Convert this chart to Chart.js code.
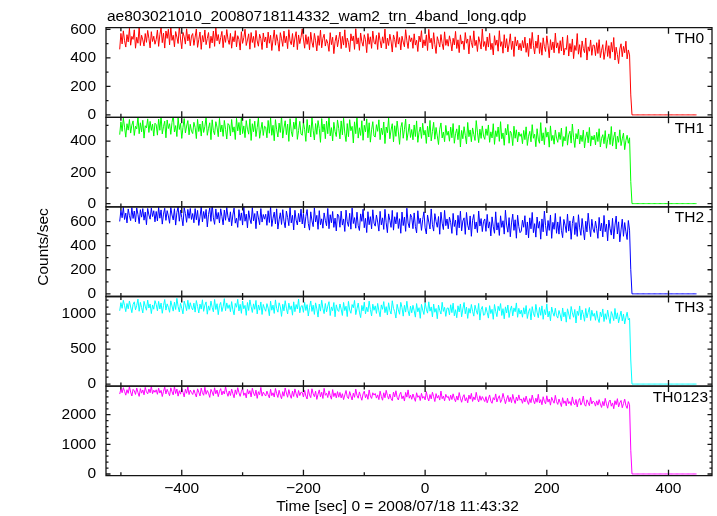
<!DOCTYPE html>
<html><head><meta charset="utf-8">
<script src="https://cdn.jsdelivr.net/npm/chart.js@4.4.1/dist/chart.umd.min.js"></script>
<style>html,body{margin:0;padding:0;background:#fff;overflow:hidden}</style>
</head><body><canvas id="c" width="717" height="516"></canvas>
<script>
// ---- data ----
const binStart = -502;   // time of first bin [sec]
const binSize = 2;       // bin width [sec]
const th0 = [
460,572,498,590,521,476,563,512,608,489,551,530,597,468,545,503,618,487,559,526,483,571,509,593,537,470,584,515,552,496,
528,596,481,563,612,507,574,469,589,537,601,492,618,523,559,478,585,546,501,622,533,464,579,548,497,604,519,566,485,553,
571,488,546,603,474,529,582,460,557,511,596,493,537,578,468,552,505,589,481,611,520,564,497,543,586,472,558,509,599,530,
495,572,468,549,513,591,477,556,530,455,584,502,542,601,487,526,569,461,578,508,551,473,593,519,482,566,535,459,575,512,
547,470,581,503,559,452,528,596,489,563,515,447,577,534,481,588,506,552,465,598,519,493,571,476,540,584,458,561,500,545,
604,532,468,563,495,549,457,580,511,474,572,520,449,556,488,595,471,538,566,483,529,502,446,577,493,545,430,514,559,478,
531,582,465,551,490,597,472,539,508,444,569,519,554,460,605,497,541,453,575,513,482,563,527,437,571,496,548,467,588,510,
496,558,459,577,522,470,548,503,602,463,539,487,566,518,441,561,529,474,585,497,543,456,552,511,478,598,520,466,557,514,
541,467,569,490,524,445,553,512,591,471,527,485,562,452,600,506,538,463,577,494,431,549,515,476,564,501,458,583,488,530,
482,555,513,449,538,491,586,466,527,437,562,497,519,458,578,503,533,428,556,509,472,590,486,524,445,549,511,462,603,480,
515,451,547,476,572,458,503,421,556,489,526,447,591,481,514,433,563,470,535,442,497,569,459,518,410,548,483,524,456,502,
450,522,471,546,439,503,410,537,464,579,486,428,518,468,561,431,507,419,541,479,445,555,489,401,528,457,512,436,574,470,
506,432,521,449,547,420,468,459,558,413,501,441,533,395,487,452,571,426,493,404,519,466,437,540,385,478,447,526,418,490,
489,416,507,431,528,402,454,493,389,447,521,410,486,397,509,441,543,385,475,424,360,462,499,408,481,436,517,393,456,421,
140,
0,0,0,0,0,0,0,0,0,0,0,0,0,0,0,0,0,0,0,0,0,0,0,0,0,0,0,0,0,0,0,0,0,0,0,0,0,0,0,0,0,0,0,0,0,0,0,0,0,0,0,0,0,0];
const th1 = [
441,523,462,547,489,425,511,470,538,451,502,529,436,495,478,556,447,517,459,533,419,498,484,542,455,526,468,509,432,514,
505,438,541,469,562,446,492,527,421,535,480,511,443,519,566,458,499,429,548,474,513,417,487,544,452,496,531,440,507,463,
448,520,487,416,539,461,509,432,528,455,494,551,437,482,517,409,536,466,441,524,489,428,545,458,503,430,532,475,413,512,
502,433,538,457,491,410,546,465,519,439,555,448,497,422,531,476,444,542,404,511,460,527,429,486,549,418,473,520,436,495,
489,421,532,450,548,437,501,402,537,472,426,515,455,560,419,484,530,441,509,398,543,463,428,521,476,551,411,467,526,445,
437,519,474,398,538,452,503,426,553,469,407,512,443,531,480,392,544,458,509,415,527,447,558,433,486,401,520,461,429,535,
481,414,529,440,546,451,397,512,428,537,466,494,388,523,447,555,419,485,436,530,405,501,459,542,421,517,393,472,524,432,
426,505,462,536,409,483,441,522,384,490,453,547,415,471,511,395,498,430,528,458,379,486,519,418,475,541,404,452,509,423,
474,408,503,429,529,392,456,490,417,514,438,469,385,495,426,532,401,461,520,412,487,433,378,476,516,420,458,396,500,437,
463,399,489,421,512,386,447,478,409,501,362,468,415,492,437,381,519,428,471,396,484,442,404,531,457,390,476,417,497,432,
411,478,436,503,392,459,420,511,379,466,428,490,398,524,415,452,373,481,439,507,386,463,449,371,495,418,472,394,458,430,
447,383,468,409,491,372,431,462,395,505,418,444,364,479,412,386,518,401,453,377,486,425,458,361,497,403,437,380,471,419,
392,456,410,483,366,429,401,492,374,441,463,387,509,421,359,448,413,476,381,438,397,470,356,425,459,389,487,368,433,407,
438,375,456,397,479,362,418,441,383,467,354,409,446,378,493,368,425,458,349,431,392,472,371,414,451,345,404,437,386,421,
141,
0,0,0,0,0,0,0,0,0,0,0,0,0,0,0,0,0,0,0,0,0,0,0,0,0,0,0,0,0,0,0,0,0,0,0,0,0,0,0,0,0,0,0,0,0,0,0,0,0,0,0,0,0,0];
const th2 = [
601,694,632,718,617,671,589,705,649,608,716,626,688,597,714,660,583,699,637,708,612,679,574,709,655,620,712,642,690,598,
684,605,719,628,697,579,662,711,610,691,647,586,717,655,614,707,571,676,722,603,696,633,565,715,668,594,701,627,709,618,
667,590,708,615,693,568,639,722,597,684,625,701,556,660,713,602,745,631,577,705,620,676,588,706,643,573,696,611,718,636,
598,681,565,655,712,587,628,552,699,609,672,571,726,603,662,548,690,621,583,716,606,667,541,687,630,574,708,596,659,620,
661,569,690,592,724,560,628,679,581,706,538,615,673,576,699,603,549,687,634,566,718,589,652,531,694,612,572,668,597,703,
580,668,547,643,700,583,529,681,606,558,714,597,652,536,691,574,623,545,672,611,565,709,541,657,590,684,552,629,522,663,
648,553,687,571,622,518,695,598,560,669,537,712,584,633,545,678,566,526,664,602,703,549,627,509,682,574,641,540,698,587,
562,655,596,521,685,573,631,535,702,590,508,664,611,552,693,529,640,581,676,543,624,503,679,567,637,519,711,588,549,661,
634,541,672,560,506,690,583,628,527,617,681,548,497,655,596,539,705,574,521,666,601,553,642,495,678,587,534,693,566,622,
540,637,591,502,668,559,613,487,652,548,686,523,605,631,494,676,570,531,647,478,611,659,538,597,509,688,563,625,517,601,
622,519,660,546,598,481,639,557,503,681,530,591,485,648,552,607,496,694,571,512,633,474,589,662,527,615,462,653,558,508,
521,612,553,649,489,597,465,631,540,676,508,583,471,638,545,601,454,622,515,687,566,482,609,527,655,461,594,536,668,503,
597,496,641,528,467,618,571,509,663,521,606,453,585,645,492,592,477,657,548,486,626,532,448,603,514,670,563,475,619,538,
509,604,543,461,635,522,587,473,651,516,579,440,613,540,488,627,457,571,646,497,598,432,531,620,478,592,515,451,609,529,
200,
0,0,0,0,0,0,0,0,0,0,0,0,0,0,0,0,0,0,0,0,0,0,0,0,0,0,0,0,0,0,0,0,0,0,0,0,0,0,0,0,0,0,0,0,0,0,0,0,0,0,0,0,0,0];
const th3 = [
1048,1164,1083,1197,1121,1035,1152,1076,1188,1102,1021,1139,1176,1062,1125,1214,1041,1168,1094,1017,1183,1113,1056,1201,1087,1145,1008,1131,1070,1193,
1139,1047,1182,1073,1158,1012,1121,1209,1058,1147,1098,1026,1190,1117,1043,1171,1066,1226,1109,1031,1154,1084,1004,1186,1128,1050,1199,1069,1163,1092,
1061,1157,1029,1194,1110,1016,1143,1072,1205,1040,1128,1175,999,1118,1055,1186,1097,1033,1210,1066,1149,992,1123,1168,1037,1105,1221,1049,1160,1081,
1134,1035,1179,1064,990,1153,1098,1212,1045,1140,1011,1188,1076,1125,983,1166,1052,1203,1109,1024,1147,1069,1196,1003,1131,1057,1174,995,1138,1082,
1041,1150,1087,977,1185,1056,1129,1010,1203,1079,1028,1162,1104,968,1141,1047,1192,1085,1002,1157,1066,1118,985,1176,1035,1137,1073,1215,1019,1112,
1121,1026,1169,1052,1136,973,1095,1188,1039,1128,996,1161,1074,958,1144,1043,1199,1080,1007,1152,1031,1115,1178,980,1103,1049,1166,962,1133,1060,
1038,1145,1071,981,1167,1050,1113,965,1182,1059,1012,1137,1091,1196,993,1076,1158,1028,950,1124,1046,1171,1003,1099,1034,1186,1067,974,1142,1055,
1118,1010,1153,1046,963,1132,1069,1179,1021,1107,987,1162,1052,1001,1191,1083,1035,944,1140,1061,998,1168,1094,971,1126,1029,1184,1048,976,1115,
1019,1126,1048,957,1151,1033,1092,940,1139,1058,995,1163,1071,1014,1176,1042,1103,961,1144,1027,1081,934,1130,1052,1001,1169,1039,1097,968,1085,
1088,990,1134,1021,1157,976,1063,948,1119,1031,1145,962,1074,1166,1005,1101,939,1082,1013,1138,1040,971,1127,1054,998,1153,915,1067,1110,984,
993,1097,1026,943,1121,1008,1069,926,1138,1040,964,1112,1049,1151,981,1078,933,1104,1016,1130,952,1059,1117,975,1089,1034,1160,955,1083,1001,
1058,956,1091,1000,1123,938,1034,1079,917,1107,1012,963,1139,1028,949,1095,983,1118,926,1064,992,1146,959,1041,905,1101,1021,970,1085,979,
943,1052,990,901,1088,962,1031,885,1076,1003,927,1109,1018,955,1067,873,1042,981,1117,918,1060,996,898,1081,947,1025,1096,909,1055,969,
1011,912,1047,938,880,1029,963,1074,894,1006,925,1058,951,866,1036,985,907,1081,930,1019,876,968,1043,903,1000,859,955,1027,918,940,
344,
0,0,0,0,0,0,0,0,0,0,0,0,0,0,0,0,0,0,0,0,0,0,0,0,0,0,0,0,0,0,0,0,0,0,0,0,0,0,0,0,0,0,0,0,0,0,0,0,0,0,0,0,0,0];
const th0123 = [
2698,2871,2742,2913,2789,2660,2844,2721,2948,2765,2632,2857,2806,2685,2902,2753,2619,2881,2728,2836,2671,2924,2774,2703,2866,2740,2960,2712,2828,2757,
2842,2689,2896,2731,2823,2614,2787,2933,2702,2858,2750,2640,2907,2776,2668,2952,2715,2869,2627,2812,2694,2888,2759,2601,2861,2724,2940,2680,2831,2749,
2683,2839,2712,2598,2874,2761,2634,2901,2740,2656,2927,2690,2818,2727,2585,2856,2764,2643,2910,2706,2833,2610,2789,2881,2667,2797,2698,2945,2751,2621,
2802,2648,2866,2710,2573,2839,2685,2913,2744,2619,2791,2884,2652,2736,2568,2857,2697,2812,2601,2895,2729,2640,2830,2552,2778,2676,2921,2627,2763,2690,
2631,2796,2672,2568,2859,2643,2741,2597,2887,2712,2584,2825,2659,2540,2780,2625,2903,2734,2589,2846,2667,2554,2799,2616,2872,2702,2575,2818,2646,2760,
2749,2597,2823,2630,2530,2855,2668,2577,2876,2707,2609,2794,2518,2691,2838,2602,2760,2549,2891,2655,2727,2580,2806,2643,2525,2849,2612,2736,2569,2781,
2592,2753,2567,2710,2509,2668,2817,2604,2542,2781,2635,2497,2729,2586,2862,2651,2556,2769,2615,2488,2700,2794,2573,2687,2521,2836,2629,2549,2741,2662,
2717,2561,2670,2510,2794,2618,2489,2741,2573,2823,2652,2527,2698,2545,2474,2765,2601,2809,2582,2498,2677,2758,2539,2636,2462,2752,2594,2838,2557,2660,
2521,2698,2566,2452,2741,2587,2643,2478,2722,2555,2616,2501,2780,2574,2466,2681,2533,2759,2608,2445,2712,2560,2649,2494,2797,2541,2627,2469,2688,2582,
2620,2477,2659,2512,2705,2541,2438,2633,2493,2748,2556,2420,2597,2677,2468,2575,2402,2661,2527,2719,2449,2601,2505,2756,2544,2431,2640,2486,2612,2522,
2444,2609,2401,2533,2667,2459,2386,2578,2495,2702,2431,2561,2642,2413,2514,2720,2548,2372,2526,2651,2437,2587,2409,2685,2506,2380,2597,2468,2669,2490,
2533,2386,2572,2430,2628,2461,2349,2545,2407,2663,2488,2371,2559,2420,2690,2396,2510,2337,2607,2452,2368,2640,2426,2531,2323,2586,2474,2389,2655,2441,
2348,2529,2402,2276,2574,2383,2467,2298,2558,2371,2446,2313,2601,2395,2332,2515,2262,2478,2547,2324,2420,2632,2341,2287,2503,2411,2305,2586,2364,2459,
2421,2290,2467,2324,2509,2357,2245,2448,2301,2553,2366,2219,2431,2497,2287,2398,2203,2474,2339,2542,2262,2405,2481,2236,2376,2526,2310,2214,2444,2337,
800,
0,0,0,0,0,0,0,0,0,0,0,0,0,0,0,0,0,0,0,0,0,0,0,0,0,0,0,0,0,0,0,0,0,0,0,0,0,0,0,0,0,0,0,0,0,0,0,0,0,0,0,0,0,0];

const panelNames = ['TH0', 'TH1', 'TH2', 'TH3', 'TH0123'];
const xMajorTicks = [-400, -200, 0, 200, 400];
const xMinorTicks = [-500, -300, -100, 100, 300];
const yMajorTicks = [
  [0, 200, 400, 600],
  [0, 200, 400],
  [0, 200, 400, 600],
  [0, 500, 1000],
  [0, 1000, 2000]
];
const yMinorTicks = [
  [100, 300, 500],
  [100, 300, 500],
  [100, 300, 500, 700],
  [100, 200, 300, 400, 600, 700, 800, 900, 1100, 1200],
  [200, 400, 600, 800, 1200, 1400, 1600, 1800, 2200, 2400, 2600, 2800]
];
const titleText = 'ae803021010_20080718114332_wam2_trn_4band_long.qdp';
const xTitle = 'Time [sec] 0 = 2008/07/18 11:43:32';
const yTitle = 'Counts/sec';

// ---- chart ----
const series = [th0, th1, th2, th3, th0123];
const colors = ['#ff0000', '#00ff00', '#0000ff', '#00ffff', '#ff00ff'];
const yLimits = [[-17, 612], [-21, 552], [-22, 722], [-29, 1252], [-58, 2966]];
const FONT = {family: '"Liberation Sans", Arial, Helvetica, sans-serif', size: 15.5};
const yIds = ['y0', 'y1', 'y2', 'y3', 'y4'];

const datasets = series.map((arr, i) => ({
  label: panelNames[i],
  data: arr.map((v, k) => ({x: binStart + k * binSize, y: v})),
  yAxisID: yIds[i],
  borderColor: colors[i],
  borderWidth: 1,
  pointRadius: 0,
  tension: 0,
  fill: false
}));

const scales = {
  x: {
    type: 'linear', position: 'bottom', min: -524.5, max: 471.5,
    grid: {display: false, drawTicks: false}, border: {display: false},
    afterBuildTicks: s => { s.ticks = xMajorTicks.map(v => ({value: v})); },
    afterFit: s => { s.height = 40.3; },
    ticks: {font: FONT, color: '#000', padding: 4, maxRotation: 0, autoSkip: false,
      callback: v => (v < 0 ? '\u2212' + Math.abs(v) : String(v))}
  }
};
yIds.forEach((id, i) => {
  scales[id] = {
    type: 'linear', position: 'left', stack: 'panels', stackWeight: 1, weight: 5 - i,
    min: yLimits[i][0], max: yLimits[i][1],
    grid: {display: false, drawTicks: false}, border: {display: false},
    afterBuildTicks: s => { s.ticks = yMajorTicks[i].map(v => ({value: v})); },
    afterFit: s => { s.width = 106; },
    ticks: {font: FONT, color: '#000', padding: 10, autoSkip: false, callback: v => String(v)}
  };
});

const framePlugin = {
  id: 'frame',
  afterDatasetsDraw(chart) {
    const {ctx, chartArea: a, scales: sc} = chart;
    const xs = sc.x;
    ctx.save();
    ctx.strokeStyle = '#141414';
    ctx.lineWidth = 1.3;
    ctx.fillStyle = '#000';
    ctx.font = '15.5px "Liberation Sans", Arial, sans-serif';
    yIds.forEach((id, i) => {
      const s = sc[id];
      const top = s.top, bot = s.bottom;
      ctx.beginPath();
      ctx.rect(a.left, top, a.right - a.left, bot - top);
      const xt = (v, len) => {
        const px = xs.getPixelForValue(v);
        ctx.moveTo(px, top); ctx.lineTo(px, top + len);
        ctx.moveTo(px, bot); ctx.lineTo(px, bot - len);
      };
      xMajorTicks.forEach(v => xt(v, 6));
      xMinorTicks.forEach(v => xt(v, 3.5));
      const yt = (v, len) => {
        const py = s.getPixelForValue(v);
        ctx.moveTo(a.left, py); ctx.lineTo(a.left + len, py);
        ctx.moveTo(a.right, py); ctx.lineTo(a.right - len, py);
      };
      yMajorTicks[i].forEach(v => yt(v, 4.5));
      yMinorTicks[i].forEach(v => yt(v, 2.5));
      ctx.stroke();
      ctx.textAlign = 'right';
      ctx.textBaseline = 'alphabetic';
      ctx.fillText(panelNames[i], i === 4 ? a.right - 4 : a.right - 8, top + 15.5);
    });
    ctx.textAlign = 'left';
    ctx.fillText(titleText, 107, 20.5);
    ctx.textAlign = 'center';
    ctx.fillText(xTitle, 397.5, 511);
    ctx.translate(47.5, 247);
    ctx.rotate(-Math.PI / 2);
    ctx.fillText(yTitle, 0, 0);
    ctx.restore();
  }
};

new Chart(document.getElementById('c'), {
  type: 'line',
  data: {datasets},
  options: {
    responsive: false, animation: false, devicePixelRatio: 1,
    layout: {padding: {left: 0, right: 5, top: 27.7, bottom: 0}},
    plugins: {legend: {display: false}, tooltip: {enabled: false}, title: {display: false}},
    scales
  },
  plugins: [framePlugin]
});
</script>
</body></html>
